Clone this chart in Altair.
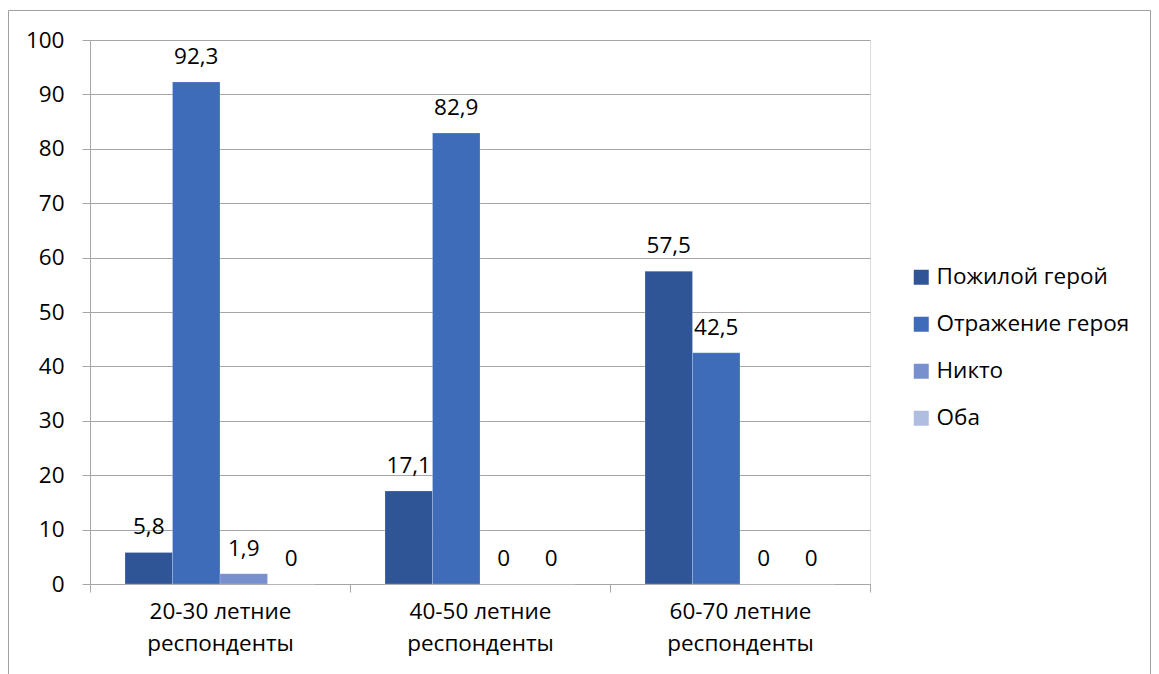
import altair as alt
import pandas as pd

categories = ["20-30 летние респонденты", "40-50 летние респонденты", "60-70 летние респонденты"]
series = ["Пожилой герой", "Отражение героя", "Никто", "Оба"]
values = {
    "Пожилой герой": [5.8, 17.1, 57.5],
    "Отражение героя": [92.3, 82.9, 42.5],
    "Никто": [1.9, 0, 0],
    "Оба": [0, 0, 0],
}
colors = ["#2F5597", "#3F6CB8", "#7890CE", "#AFBDE0"]
y_ticks = list(range(0, 101, 10))

rows = []
for s in series:
    for c, v in zip(categories, values[s]):
        rows.append({"cat": c, "series": s, "value": v})
df = pd.DataFrame(rows)

FONT = "Open Sans"
FS = 22.5
GRID = "#A6A6A6"

x_enc = alt.X("cat:N", sort=categories, title=None,
              scale=alt.Scale(paddingInner=0, paddingOuter=0),
              axis=alt.Axis(labelAngle=0, tickBand="extent", ticks=True, tickSize=8,
                            tickColor=GRID, domainColor=GRID, labelPadding=8,
                            labelFontSize=FS, labelFont=FONT, labelColor="#000000",
                            labelLineHeight=32, labelLimit=300,
                            labelExpr="[substring(datum.label, 0, lastindexof(datum.label, ' ')), substring(datum.label, lastindexof(datum.label, ' ') + 1)]"))
xo_enc = alt.XOffset("series:N", sort=series,
                     scale=alt.Scale(paddingInner=0, paddingOuter=0.737))
y_enc = alt.Y("value:Q", title=None,
              scale=alt.Scale(domain=[0, 100], nice=False),
              axis=alt.Axis(values=y_ticks, grid=True, gridColor=GRID, tickColor=GRID,
                            domainColor=GRID, tickSize=8, labelPadding=18,
                            labelFontSize=FS, labelFont=FONT, labelColor="#000000"))

frame = alt.Chart(pd.DataFrame({"f": [0]})).mark_rect(
    fill=None, stroke="#A0A0A0", strokeWidth=1
).encode(x=alt.value(-81.5), x2=alt.value(1060.5), y=alt.value(-29.5), y2=alt.value(720))

bars = alt.Chart(df).mark_bar(stroke="#FFFFFF", strokeWidth=0.5, strokeOpacity=0.4).encode(
    x=x_enc, xOffset=xo_enc, y=y_enc,
    color=alt.Color("series:N", sort=series,
                    scale=alt.Scale(domain=series, range=colors),
                    legend=alt.Legend(title=None, orient="none", legendX=820, legendY=226,
                                      symbolType="square", symbolSize=225,
                                      symbolStrokeWidth=0, labelFontSize=FS, labelFont=FONT,
                                      labelColor="#000000", rowPadding=24, labelOffset=4,
                                      labelLimit=300)),
)

labels = alt.Chart(df).transform_calculate(
    lbl="datum.value == 0 ? '0' : replace(format(datum.value, '.1f'), '.', ',')"
).mark_text(baseline="alphabetic", dy=-18, fontSize=FS, font=FONT, color="#000000").encode(
    x=alt.X("cat:N", sort=categories), xOffset=alt.XOffset("series:N", sort=series), y="value:Q",
    text="lbl:N",
)

chart = alt.layer(frame, bars, labels).properties(
    width=780, height=544,
    autosize=alt.AutoSizeParams(type="none"),
    padding={"left": 82, "top": 32, "right": 281, "bottom": 110},
).configure_view(stroke=None).configure(font=FONT)

chart.save("out.html", embed_options={"renderer": "svg", "actions": False})
